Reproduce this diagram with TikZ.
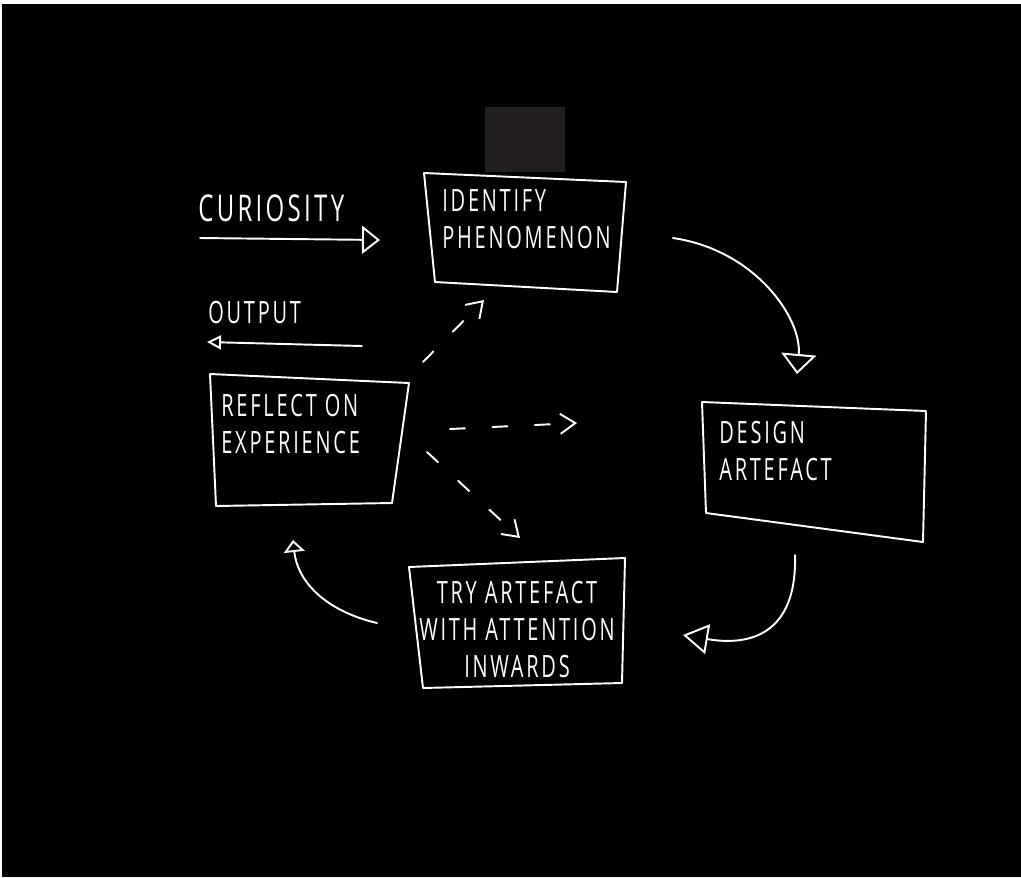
\documentclass[tikz,border=0pt]{standalone}
\usepackage{fontspec}
\usepackage{tikz}
\usetikzlibrary{arrows.meta}
\newfontfamily\handfont[FakeStretch=0.65,LetterSpace=9]{Open Sans}
\definecolor{boardgrey}{HTML}{231F20}
\tikzset{
	hand/.style={font=\handfont\fontsize{17.5pt}{21pt}\selectfont, text=white, inner sep=0pt},
	box/.style={draw=white, line width=1.1pt, line join=round},
	flow/.style={draw=white, line width=1.1pt, line cap=round, line join=round},
	hint/.style={flow, dash pattern=on 0.3cm off 0.55cm},
}

\begin{document}
\begin{tikzpicture}[x=0.02cm, y=-0.02cm]
	
	\useasboundingbox (0,0) rectangle (1021,877);
	\fill[white] (0,0) rectangle (1021,877);
	\fill[black] (2,4) rectangle (1021,877);
	\fill[boardgrey] (485,107) rectangle (565,172);
	
	\coordinate (id1) at (424,173);
	\coordinate (id2) at (626,182);
	\coordinate (id3) at (617,292);
	\coordinate (id4) at (435,282);
	\draw[box] (id1) -- (id2) -- (id3) -- (id4) -- cycle;
	\node[hand, anchor=north west, align=left] (identify) at (442,189) {IDENTIFY\\PHENOMENON};
	
	\coordinate (de1) at (702,402);
	\coordinate (de2) at (926,411);
	\coordinate (de3) at (923,542);
	\coordinate (de4) at (706,513);
	\draw[box] (de1) -- (de2) -- (de3) -- (de4) -- cycle;
	\node[hand, anchor=north west, align=left] (design) at (719,421) {DESIGN\\ARTEFACT};
	
	\coordinate (tr1) at (409,567);
	\coordinate (tr2) at (625,558);
	\coordinate (tr3) at (622,683);
	\coordinate (tr4) at (423,688);
	\draw[box] (tr1) -- (tr2) -- (tr3) -- (tr4) -- cycle;
	\node[hand, anchor=north, align=center] (try) at (517,581) {TRY ARTEFACT\\WITH ATTENTION\\INWARDS};
	
	\coordinate (re1) at (210,374);
	\coordinate (re2) at (409,383);
	\coordinate (re3) at (392,503);
	\coordinate (re4) at (216,506);
	\draw[box] (re1) -- (re2) -- (re3) -- (re4) -- cycle;
	\node[hand, anchor=north west, align=left] (reflect) at (221,394) {REFLECT ON\\EXPERIENCE};
	
	\node[hand, font=\handfont\fontsize{21pt}{24pt}\selectfont, anchor=north west] (curiosity) at (198,194) {CURIOSITY};
	\coordinate (cur-s) at (200,238);
	\coordinate (cur-e) at (380,240);
	\draw[flow, -{Triangle[open, length=0.36cm, width=0.56cm]}] (cur-s) -- (cur-e);
	
	\node[hand, anchor=north west] (output) at (208,301) {OUTPUT};
	\coordinate (out-s) at (362,346);
	\coordinate (out-e) at (207,342);
	\draw[flow, -{Triangle[open, length=0.28cm, width=0.28cm]}] (out-s) -- (out-e);
	
	\coordinate (a1-s) at (673,238);
	\coordinate (a1-e) at (797,374);
	\draw[flow, -{Triangle[open, length=0.4cm, width=0.7cm]}] (a1-s) .. controls (755,250) and (802,318) .. (a1-e);
	
	\coordinate (a2-s) at (795,555);
	\coordinate (a2-e) at (683,635);
	\draw[flow, -{Triangle[open, length=0.5cm, width=0.6cm]}] (a2-s) .. controls (797,625) and (760,648) .. (a2-e);
	
	\coordinate (a3-s) at (377,623);
	\coordinate (a3-e) at (293,540);
	\draw[flow, -{Triangle[open, length=0.24cm, width=0.42cm]}] (a3-s) .. controls (330,612) and (298,585) .. (a3-e);
	
	\coordinate (h1-s) at (423,362);
	\coordinate (h1-e) at (484,300);
	\coordinate (h2-s) at (450,429);
	\coordinate (h2-e) at (577,423);
	\coordinate (h3-s) at (427,452);
	\coordinate (h3-e) at (520,538);
	\draw[hint, -{Straight Barb[length=0.3cm, width=0.4cm]}] (h1-s) -- (h1-e);
	\draw[hint, -{Straight Barb[length=0.3cm, width=0.4cm]}] (h2-s) -- (h2-e);
	\draw[hint, -{Straight Barb[length=0.3cm, width=0.4cm]}] (h3-s) -- (h3-e);
	
\end{tikzpicture}
\end{document}
